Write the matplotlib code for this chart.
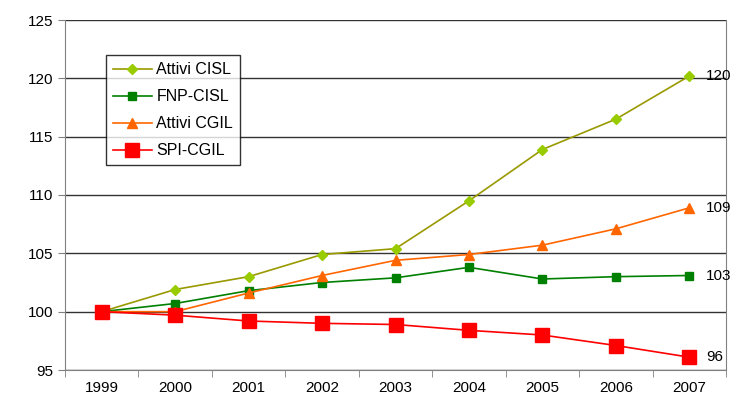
import matplotlib.pyplot as plt

plt.rcParams['font.family'] = ['Liberation Sans', 'DejaVu Sans']

years = ['1999', '2000', '2001', '2002', '2003', '2004', '2005', '2006', '2007']
attivi_cisl = [100, 101.9, 103.0, 104.9, 105.4, 109.5, 113.9, 116.5, 120.2]
fnp_cisl = [100, 100.7, 101.8, 102.5, 102.9, 103.8, 102.8, 103.0, 103.1]
attivi_cgil = [100, 100.0, 101.6, 103.1, 104.4, 104.9, 105.7, 107.1, 108.9]
spi_cgil = [100, 99.7, 99.2, 99.0, 98.9, 98.4, 98.0, 97.1, 96.1]
end_labels = ['120', '103', '109', '96']

fig = plt.figure(figsize=(7.36, 4.04), dpi=100)
ax = fig.add_axes([65 / 736, 34 / 404, 661 / 736, 350 / 404])

x = list(range(len(years)))
ax.plot(x, attivi_cisl, color='#999900', lw=1.2, marker='D', ms=5,
        mfc='#99CC00', mec='#99CC00', label='Attivi CISL', zorder=3)
ax.plot(x, fnp_cisl, color='#008000', lw=1.2, marker='s', ms=6,
        mfc='#008000', mec='#008000', label='FNP-CISL', zorder=3)
ax.plot(x, attivi_cgil, color='#FF6600', lw=1.2, marker='^', ms=7,
        mfc='#FF6600', mec='#FF6600', label='Attivi CGIL', zorder=3)
ax.plot(x, spi_cgil, color='#FF0000', lw=1.2, marker='s', ms=10,
        mfc='#FF0000', mec='#FF0000', label='SPI-CGIL', zorder=4)

for series, lab in zip([attivi_cisl, fnp_cisl, attivi_cgil, spi_cgil], end_labels):
    ax.annotate(lab, (x[-1], series[-1]), xytext=(12, 0), textcoords='offset points',
                va='center', ha='left', fontsize=11)

ax.set_xlim(-0.5, 8.5)
ax.set_ylim(95, 125)
ax.set_yticks(range(95, 126, 5))
ax.set_xticks(x)
ax.set_xticklabels(years)
ax.set_xticks([i - 0.5 for i in range(10)], minor=True)
ax.tick_params(axis='x', which='major', length=0, pad=8, labelsize=11)
ax.tick_params(axis='x', which='minor', length=5, color='#808080')
ax.tick_params(axis='y', length=5, color='#808080', labelsize=11)
ax.grid(axis='y', color='#333333', lw=1)
ax.set_axisbelow(True)

for side in ['left', 'right', 'bottom']:
    ax.spines[side].set_color('#808080')
ax.spines['top'].set_visible(False)

leg = ax.legend(loc='upper left', bbox_to_anchor=(41 / 661, 315 / 350), frameon=True,
                fancybox=False, edgecolor='black', fontsize=11.5, handlelength=2.4,
                borderpad=0.45, labelspacing=0.75, handletextpad=0.3,
                borderaxespad=0)
leg.get_frame().set_linewidth(1)

fig.savefig('out.png', dpi=100)
